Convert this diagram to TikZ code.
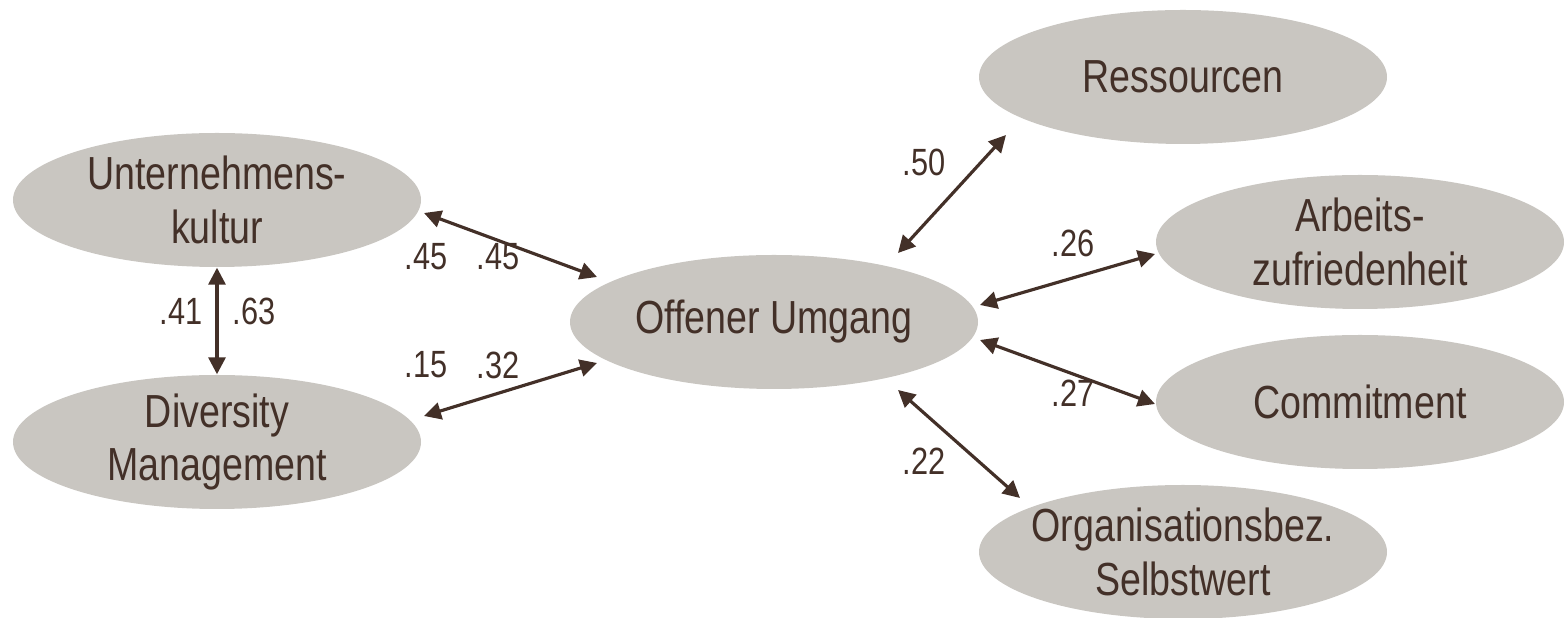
\documentclass[tikz,border=0pt]{standalone}
\usepackage{fontspec}
\setmainfont{Liberation Sans}[FakeStretch=0.81]
\usetikzlibrary{arrows.meta,shapes.geometric}

\definecolor{ovalgray}{HTML}{C9C6C1}
\definecolor{inkbrown}{HTML}{433028}

\begin{document}
\begin{tikzpicture}[
    oval/.style={ellipse,fill=ovalgray,minimum width=4.08cm,minimum height=1.34cm,inner sep=0pt},
    ovaltext/.style={text=inkbrown,align=center,font=\fontsize{13.2}{15.2}\selectfont},
    coef/.style={text=inkbrown,inner sep=0pt,font=\fontsize{10.8}{12}\selectfont},
    link/.style={{Triangle[length=0.17cm,width=0.17cm]}-{Triangle[length=0.17cm,width=0.17cm]},line width=0.9pt,draw=inkbrown}
]
\useasboundingbox (0,0) rectangle (15.67,6.18);

% === Left side: predictors ===
\node[oval] (uk) at (2.17,4.18) {};
\node[ovaltext] (uk-t) at (uk) {Unternehmens-\\kultur};
\node[oval] (dm) at (2.17,1.76) {};
\node[ovaltext] (dm-t) at (dm) {Diversity\\Management};

% === Centre ===
\node[oval] (ou) at (7.74,2.96) {};
\node[ovaltext] (ou-t) at (ou) {Offener Umgang};

% === Right side: outcomes ===
\node[oval] (res) at (11.83,5.41) {};
\node[ovaltext] (res-t) at (res) {Ressourcen};
\node[oval] (arb) at (13.60,3.76) {};
\node[ovaltext] (arb-t) at (arb) {Arbeits-\\zufriedenheit};
\node[oval] (com) at (13.60,2.16) {};
\node[ovaltext] (com-t) at (com) {Commitment};
\node[oval] (org) at (11.83,0.66) {};
\node[ovaltext] (org-t) at (org) {Organisationsbez.\\Selbstwert};

% === Connectors ===
\draw[link] (uk.south) -- (dm.north);
\draw[link] ([shift={(2.07,-0.13)}]uk.center) -- ([shift={(-1.77,0.45)}]ou.center);
\draw[link] ([shift={(2.07,0.26)}]dm.center) -- ([shift={(-1.77,-0.41)}]ou.center);
\draw[link] ([shift={(1.24,0.69)}]ou.center) -- ([shift={(-1.77,-0.58)}]res.center);
\draw[link] ([shift={(2.06,0.17)}]ou.center) -- ([shift={(-2.05,-0.12)}]arb.center);
\draw[link] ([shift={(2.06,-0.18)}]ou.center) -- ([shift={(-2.05,-0.02)}]com.center);
\draw[link] ([shift={(1.24,-0.68)}]ou.center) -- ([shift={(-1.63,0.54)}]org.center);

% === Coefficients ===
\node[coef] (c-ukdm-a) at (1.81,3.07) {.41};
\node[coef] (c-ukdm-b) at (2.54,3.07) {.63};
\node[coef] (c-ukou-a) at (4.26,3.61) {.45};
\node[coef] (c-ukou-b) at (4.98,3.61) {.45};
\node[coef] (c-dmou-a) at (4.26,2.53) {.15};
\node[coef] (c-dmou-b) at (4.98,2.53) {.32};
\node[coef] (c-res) at (9.24,4.56) {.50};
\node[coef] (c-arb) at (10.73,3.745) {.26};
\node[coef] (c-com) at (10.73,2.25) {.27};
\node[coef] (c-org) at (9.24,1.57) {.22};

\end{tikzpicture}
\end{document}
